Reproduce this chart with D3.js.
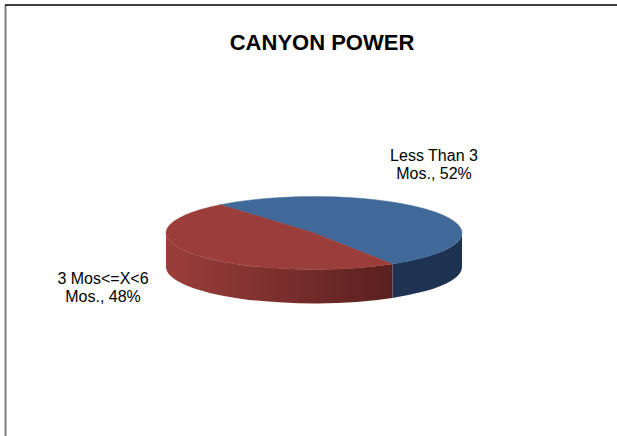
<!DOCTYPE html>
<html>
<head>
<meta charset="utf-8">
<script src="https://cdn.jsdelivr.net/npm/d3@7"></script>
<style>
html,body{margin:0;padding:0;background:#fff;}
svg{display:block;}
</style>
</head>
<body>
<svg id="chart" width="617" height="436"></svg>
<script>
// ---- data ----
const title = "CANYON POWER";
const categories = ["Less Than 3 Mos.", "3 Mos<=X<6 Mos."];
const values = [52, 48];
const topColors = ["#40699A", "#9B3E3B"];
const sideColors = [["#1F3453", "#1D3150"], ["#9B3E3B", "#5A201F"]];

// ---- layout ----
const W = 617, H = 436;
const cx = 314, cy = 233, rx = 148, ry = 36.5, depth = 34;
const startDeg = 320.8; // pie start angle (degrees, d3 convention)

const svg = d3.select("#chart");

// frame
svg.append("line").attr("x1", 5.5).attr("y1", 5).attr("x2", 5.5).attr("y2", H)
  .attr("stroke", "#808080").attr("stroke-width", 2);
svg.append("line").attr("x1", 5).attr("y1", 5).attr("x2", W).attr("y2", 5)
  .attr("stroke", "#000").attr("stroke-width", 1.5);

svg.append("text").attr("x", 322).attr("y", 50).attr("text-anchor", "middle")
  .attr("font-family", "Liberation Sans, Arial, sans-serif").attr("font-weight", "bold")
  .attr("font-size", 22).attr("fill", "#000").text(title);

const pie = d3.pie().sort(null).value(d => d)
  .startAngle(startDeg * Math.PI / 180).endAngle((startDeg + 360) * Math.PI / 180);
const arcs = pie(values);

// parametric angle on screen (radians, clockwise from +x)
const toT = a => a - Math.PI / 2;
const pt = (t, dy = 0) => [cx + rx * Math.cos(t), cy + ry * Math.sin(t) + dy];

function topPath(a0, a1) {
  const t0 = toT(a0), t1 = toT(a1);
  const p0 = pt(t0), p1 = pt(t1);
  const large = (t1 - t0) > Math.PI ? 1 : 0;
  return `M${cx},${cy}L${p0[0]},${p0[1]}A${rx},${ry} 0 ${large} 1 ${p1[0]},${p1[1]}Z`;
}

// visible side ranges: intersection of [t0,t1] with [0,PI] (mod 2PI)
function sideRanges(a0, a1) {
  const t0 = toT(a0), t1 = toT(a1);
  const out = [];
  for (let k = -2; k <= 2; k++) {
    const lo = Math.max(t0, k * 2 * Math.PI), hi = Math.min(t1, k * 2 * Math.PI + Math.PI);
    if (hi > lo) out.push([lo, hi]);
  }
  return out;
}
function sidePath(s0, s1) {
  const p0 = pt(s0), p1 = pt(s1), q1 = pt(s1, depth), q0 = pt(s0, depth);
  return `M${p0[0]},${p0[1]}A${rx},${ry} 0 0 1 ${p1[0]},${p1[1]}L${q1[0]},${q1[1]}A${rx},${ry} 0 0 0 ${q0[0]},${q0[1]}Z`;
}

const defs = svg.append("defs");
const g = svg.append("g");

arcs.forEach((d, i) => {
  sideRanges(d.startAngle, d.endAngle).forEach((r, j) => {
    const x0 = pt(r[1])[0], x1 = pt(r[0])[0];
    const id = `side${i}_${j}`;
    const lg = defs.append("linearGradient").attr("id", id)
      .attr("gradientUnits", "userSpaceOnUse")
      .attr("x1", Math.min(x0, x1)).attr("y1", 0).attr("x2", Math.max(x0, x1)).attr("y2", 0);
    lg.append("stop").attr("offset", 0).attr("stop-color", sideColors[i][0]);
    lg.append("stop").attr("offset", 1).attr("stop-color", sideColors[i][1]);
    g.append("path").attr("d", sidePath(r[0], r[1])).attr("fill", `url(#${id})`);
  });
});
arcs.forEach((d, i) => {
  g.append("path").attr("d", topPath(d.startAngle, d.endAngle)).attr("fill", topColors[i])
    .attr("stroke", topColors[i]).attr("stroke-width", 0.5);
});

// labels
const total = d3.sum(values);
const labelPos = [[434, 161], [103, 284]];
arcs.forEach((d, i) => {
  const pct = Math.round(values[i] / total * 100);
  const txt = `${categories[i]}, ${pct}%`;
  const lines = txt.split(/ (?=Mos\.,)/);
  const t = svg.append("text").attr("text-anchor", "middle")
    .attr("font-family", "Liberation Sans, Arial, sans-serif").attr("font-size", 16).attr("fill", "#000");
  lines.forEach((l, k) => t.append("tspan").attr("x", labelPos[i][0]).attr("y", labelPos[i][1] + k * 17.5).text(l));
});
</script>
</body>
</html>
